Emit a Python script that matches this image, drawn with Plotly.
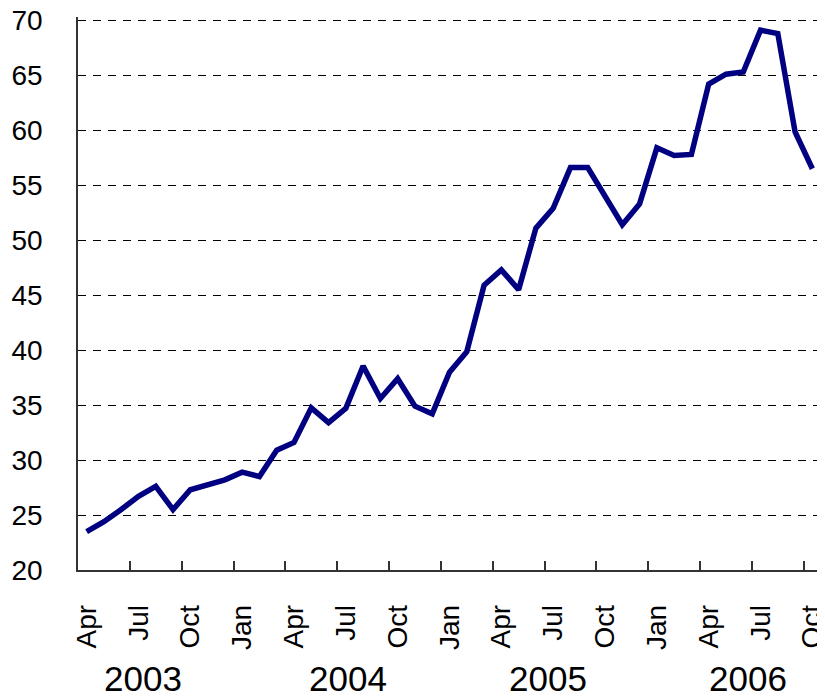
import plotly.graph_objects as go

months = ["Apr","May","Jun","Jul","Aug","Sep","Oct","Nov","Dec",
          "Jan","Feb","Mar","Apr","May","Jun","Jul","Aug","Sep","Oct","Nov","Dec",
          "Jan","Feb","Mar","Apr","May","Jun","Jul","Aug","Sep","Oct","Nov","Dec",
          "Jan","Feb","Mar","Apr","May","Jun","Jul","Aug","Sep","Oct"]
values = [23.5, 24.4, 25.5, 26.7, 27.6, 25.5, 27.3, 27.7, 28.2,
          28.9, 28.5, 30.9, 31.6, 34.75, 33.4, 34.7, 38.55, 35.6, 37.4, 34.9, 34.2,
          38.0, 39.85, 45.9, 47.3, 45.5, 51.1, 52.9, 56.6, 56.6, 53.9, 51.4, 53.3,
          58.4, 57.7, 57.8, 64.2, 65.1, 65.3, 69.1, 68.8, 59.85, 56.5]
years = ["2003", "2004", "2005", "2006"]
year_pos = [3.26, 15.1, 26.7, 38.3]
ytick_vals = [20, 25, 30, 35, 40, 45, 50, 55, 60, 65, 70]

idx = list(range(len(values)))
label_idx = idx[::3]
label_txt = [months[i] for i in label_idx]
tick_between = [i + 2.5 for i in label_idx if i + 2.5 < len(values) - 0.5]

fig = go.Figure()
fig.add_trace(go.Scatter(x=idx, y=values, mode="lines",
                         line=dict(color="#000080", width=5.5),
                         hoverinfo="skip", showlegend=False))
# dummy trace for secondary x axis (tick marks between categories)
fig.add_trace(go.Scatter(x=[idx[0]], y=[values[0]], xaxis="x2", mode="lines",
                         line=dict(width=0), showlegend=False, hoverinfo="skip"))

font_family = "Liberation Sans, Arial, sans-serif"

# page body has an 8px margin: figure is offset by 8px
fig.update_layout(
    width=817, height=689,
    margin=dict(l=70, r=4, t=9, b=127),
    paper_bgcolor="white", plot_bgcolor="white",
    font=dict(family=font_family, color="black"),
    xaxis=dict(range=[-0.5, len(values) - 0.5], tickvals=label_idx, ticktext=label_txt,
               tickangle=-90, ticks="", showgrid=False, zeroline=False,
               showline=True, linecolor="#333333", linewidth=1.5,
               tickfont=dict(size=28, family=font_family),
               ticklabelstandoff=22, automargin=False, ticklabeloverflow="allow"),
    xaxis2=dict(range=[-0.5, len(values) - 0.5], overlaying="x", side="bottom",
                tickvals=tick_between, ticks="inside", ticklen=9, tickwidth=1.5,
                tickcolor="#333333", showticklabels=False, showgrid=False,
                zeroline=False, showline=False, automargin=False),
    yaxis=dict(range=[20, 70.3], tickvals=ytick_vals, ticks="",
               showgrid=True, gridcolor="black", gridwidth=1, griddash="8px,7px",
               zeroline=False, showline=True, linecolor="#333333", linewidth=1.5,
               tickfont=dict(size=28, family=font_family),
               ticklabelstandoff=28, automargin=False, ticklabeloverflow="allow"),
)

for yr, xp in zip(years, year_pos):
    fig.add_annotation(x=xp, xref="x", y=0, yref="paper", yshift=-108, yanchor="middle",
                       text=yr, showarrow=False, font=dict(size=35, family=font_family))

fig.write_html("out.html")
